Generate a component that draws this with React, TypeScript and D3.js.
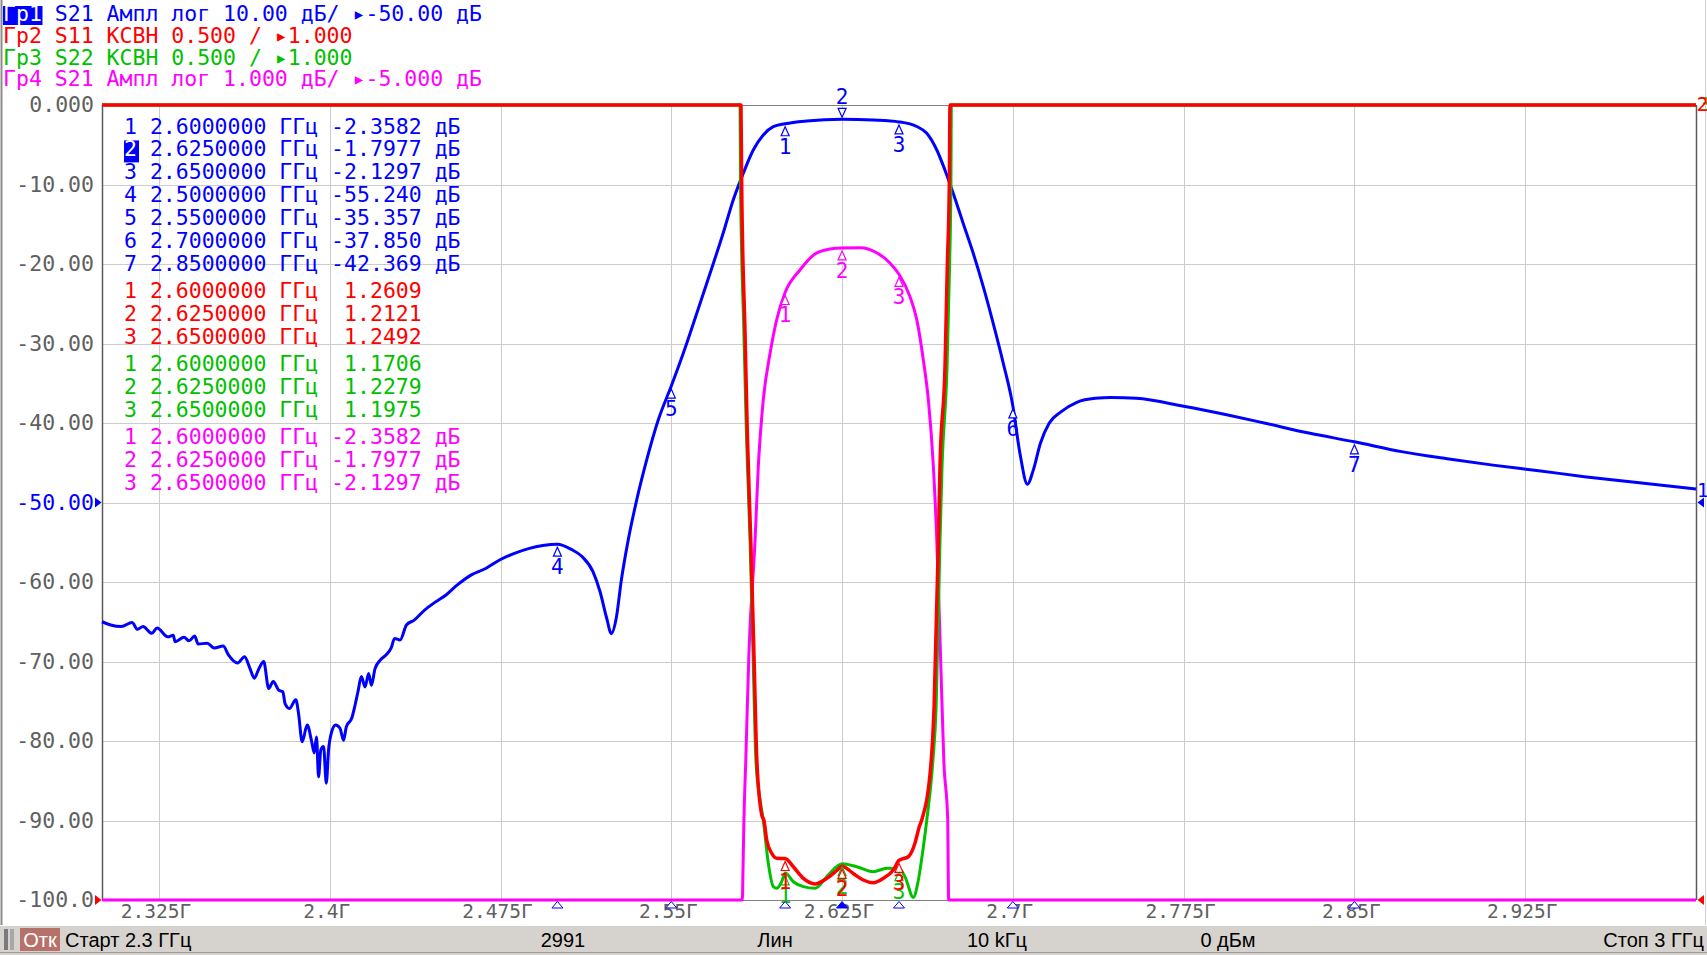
import React from 'react';
import * as d3 from 'd3';

// ---------------- data ----------------
// S21 (Гр1, blue, 10 dB/div) : [GHz, dB]
const s21Wide: [number, number][] = [
  [2.3000,-65.0],[2.3038,-65.4],[2.3085,-65.6],[2.3132,-65.1],[2.3156,-65.95],[2.3180,-65.6],[2.3219,-66.45],[2.3242,-65.8],
  [2.3289,-66.9],[2.3313,-66.7],[2.3321,-67.5],[2.3360,-66.96],[2.3383,-67.4],[2.3407,-66.8],[2.3422,-67.8],[2.3462,-67.7],
  [2.3493,-68.3],[2.3532,-68.05],[2.3556,-69.2],[2.3595,-70.2],[2.3626,-69.4],[2.3650,-70.9],[2.3669,-72.1],[2.3689,-70.9],
  [2.3710,-70.0],[2.3732,-73.4],[2.3752,-72.5],[2.3776,-73.6],[2.3794,-73.8],[2.3804,-75.3],[2.3823,-75.9],[2.3851,-74.8],
  [2.3863,-76.5],[2.3879,-80.1],[2.3901,-78.0],[2.3921,-80.1],[2.3932,-81.5],[2.3942,-79.5],[2.3951,-84.5],[2.3961,-81.1],
  [2.3973,-80.7],[2.3985,-85.3],[2.3995,-81.1],[2.4007,-79.0],[2.4026,-78.0],[2.4045,-78.4],[2.4061,-79.9],[2.4073,-78.2],
  [2.4097,-77.1],[2.4108,-75.9],[2.4124,-73.8],[2.4139,-71.9],[2.4155,-73.2],[2.4171,-71.5],[2.4183,-73.0],[2.4199,-70.9],
  [2.4223,-69.8],[2.4246,-69.2],[2.4270,-68.3],[2.4285,-67.1],[2.4309,-67.3],[2.4337,-65.4],[2.4371,-64.8],[2.4418,-63.5],
  [2.4465,-62.5],[2.4512,-61.6],[2.4559,-60.4],[2.4622,-59.1],[2.4685,-58.3],[2.4748,-57.2],[2.4811,-56.4],[2.4873,-55.8],
  [2.4936,-55.4],[2.5000,-55.24],[2.5061,-55.9],[2.5108,-56.8],[2.5156,-58.7],[2.5187,-61.2],[2.5215,-64.4],[2.5237,-66.5],
  [2.5258,-64.6],[2.5281,-59.7],[2.5311,-54.7],[2.5348,-49.7],[2.5392,-44.65],[2.5443,-39.6],[2.5500,-35.357],[2.5553,-31.2],
  [2.5612,-26.2],[2.5670,-21.2],[2.5728,-16.1],[2.5772,-11.95],[2.5816,-8.6],[2.5860,-5.66],[2.5904,-3.77],[2.5948,-2.73],
  [2.6000,-2.3582],[2.6095,-2.01],[2.6250,-1.7977],[2.6387,-1.9],[2.6500,-2.1297],[2.6578,-2.7],[2.6622,-3.56],[2.6666,-5.66],
  [2.6702,-8.2],[2.6738,-11.1],[2.6782,-14.9],[2.6826,-18.65],[2.6870,-22.85],[2.6914,-27.5],[2.6958,-32.5],[2.7000,-37.85],
  [2.7031,-43.8],[2.7064,-47.7],[2.7090,-45.9],[2.7121,-42.55],[2.7160,-40.0],[2.7211,-38.6],[2.7281,-37.4],[2.7362,-36.9],
  [2.7432,-36.8],[2.7542,-36.9],[2.7750,-37.9],[2.7944,-39.0],[2.8104,-40.0],[2.8305,-41.3],[2.8500,-42.369],[2.8707,-43.6],
  [2.8907,-44.5],[2.9108,-45.3],[2.9309,-46.0],[2.9510,-46.75],[2.9711,-47.4],[3.0000,-48.3],
];

// S21 passband detail (Гр4, magenta, 1 dB/div)
const s21Fine: [number, number][] = [
  [2.5812,-10.0],[2.5815,-9.6],[2.5819,-8.99],[2.5827,-8.26],[2.5841,-6.89],[2.5868,-5.47],[2.5882,-4.55],[2.5904,-3.71],
  [2.5934,-3.12],[2.5963,-2.70],[2.6000,-2.3582],[2.6065,-2.075],[2.6131,-1.874],[2.6197,-1.81],[2.6250,-1.7977],
  [2.6329,-1.795],[2.6402,-1.858],[2.6461,-1.99],[2.6500,-2.1297],[2.6548,-2.41],[2.6578,-2.70],[2.6607,-3.21],
  [2.6629,-3.71],[2.6651,-4.55],[2.6666,-5.47],[2.6682,-6.89],[2.6697,-8.26],[2.6714,-8.99],[2.6716,-9.6],[2.6718,-10.0],
];

// S11 VSWR (Гр2, red)
const s11Vswr: [number, number][] = [
  [2.3000,50],[2.4500,45],[2.5500,30],[2.5780,9],[2.5806,6.0],[2.5809,5.51],[2.5824,4.56],[2.5834,3.93],[2.5849,3.26],
  [2.5863,2.55],[2.5876,1.87],[2.5898,1.53],[2.5907,1.50],[2.5919,1.377],[2.5941,1.294],[2.5963,1.262],[2.6000,1.2609],
  [2.6036,1.209],[2.6080,1.136],[2.6131,1.101],[2.6183,1.136],[2.6226,1.184],[2.6250,1.2121],[2.6299,1.167],[2.6343,1.126],
  [2.6387,1.109],[2.6431,1.136],[2.6475,1.189],[2.6500,1.2492],[2.6541,1.272],[2.6570,1.357],[2.6589,1.461],[2.6600,1.503],
  [2.6641,1.868],[2.6654,2.21],[2.6673,3.26],[2.6680,3.725],[2.6702,4.354],[2.6712,4.98],[2.6721,5.51],[2.6724,6.0],
  [2.6750,9],[2.8000,35],[3.0000,50],
];

// S22 VSWR (Гр3, green)
const s22Vswr: [number, number][] = [
  [2.3000,50],[2.4500,45],[2.5500,30],[2.5778,9],[2.5802,6.0],[2.5804,5.51],[2.5819,4.56],[2.5830,3.93],[2.5846,3.26],
  [2.5859,2.55],[2.5872,1.87],[2.5890,1.63],[2.5904,1.503],[2.5926,1.231],[2.5948,1.084],[2.5963,1.074],[2.5985,1.115],
  [2.6000,1.1706],[2.6036,1.115],[2.6080,1.084],[2.6131,1.074],[2.6183,1.147],[2.6226,1.209],[2.6250,1.2279],[2.6314,1.209],
  [2.6387,1.178],[2.6446,1.199],[2.6500,1.1975],[2.6526,1.147],[2.6563,1.017],[2.6585,1.126],[2.6607,1.335],[2.6622,1.503],
  [2.6649,1.88],[2.6663,2.21],[2.6680,3.26],[2.6689,3.725],[2.6711,4.354],[2.6722,4.98],[2.6728,5.51],[2.6730,6.0],
  [2.6755,9],[2.8000,35],[3.0000,50],
];

const xTickValues = [2.325, 2.4, 2.475, 2.55, 2.625, 2.7, 2.775, 2.85, 2.925];
const xTickLabels = ['2.325Г', '2.4Г', '2.475Г', '2.55Г', '2.625Г', '2.7Г', '2.775Г', '2.85Г', '2.925Г'];
const yTickValues = [0, -10, -20, -30, -40, -50, -60, -70, -80, -90, -100];
const yTickLabels = ['0.000', '-10.00', '-20.00', '-30.00', '-40.00', '-50.00', '-60.00', '-70.00', '-80.00', '-90.00', '-100.0'];

const blueMarkerFreqs = [2.6, 2.625, 2.65, 2.5, 2.55, 2.7, 2.85];
const blueMarkerValues = ['-2.3582', '-1.7977', '-2.1297', '-55.240', '-35.357', '-37.850', '-42.369'];
const redMarkerFreqs = [2.6, 2.625, 2.65];
const redMarkerValues = ['1.2609', '1.2121', '1.2492'];
const greenMarkerFreqs = [2.6, 2.625, 2.65];
const greenMarkerValues = ['1.1706', '1.2279', '1.1975'];
const magentaMarkerFreqs = [2.6, 2.625, 2.65];
const magentaMarkerValues = ['-2.3582', '-1.7977', '-2.1297'];

const headerLabels = ['Гр1', 'Гр2', 'Гр3', 'Гр4'];
const headerTexts = [
  ' S21 Ампл лог 10.00 дБ/ ▸-50.00 дБ',
  ' S11 КСВН 0.500 / ▸1.000',
  ' S22 КСВН 0.500 / ▸1.000',
  ' S21 Ампл лог 1.000 дБ/ ▸-5.000 дБ',
];

const statusItems = ['Старт 2.3 ГГц', '2991', 'Лин', '10 kГц', '0 дБм', 'Стоп 3 ГГц'];

// ---------------- styling ----------------
const W = 1707, H = 955;
const P = { left: 102, right: 1696, top: 105, bottom: 900 };
const BLUE = '#0000ff', RED = '#ff0000', GREEN = '#00c000', MAG = '#ff00ff';
const MONO = '"DejaVu Sans Mono", monospace';
const SANS = '"Liberation Sans", Arial, sans-serif';
const GRAYTXT = '#606060';

const x = d3.scaleLinear().domain([2.3, 3.0]).range([P.left, P.right]);
const yDb = d3.scaleLinear().domain([-100, 0]).range([P.bottom, P.top]).clamp(true);
const yMag = d3.scaleLinear().domain([-10, 0]).range([P.bottom, P.top]).clamp(true);
const yVswr = d3.scaleLinear().domain([1, 6]).range([P.bottom, P.top]).clamp(true);

const mkLine = (ys: d3.ScaleLinear<number, number>) =>
  d3.line<[number, number]>().x(d => x(d[0])).y(d => ys(d[1])).curve(d3.curveMonotoneX);

const magData: [number, number][] = [
  ...s21Wide.filter(d => d[0] < 2.5812),
  ...s21Fine,
  ...s21Wide.filter(d => d[0] > 2.6718),
];

function MarkerBelow({ cx, cy, n, color }: { cx: number; cy: number; n: number; color: string }) {
  return (
    <g>
      <path d={`M${cx},${cy + 3} L${cx + 4},${cy + 12} L${cx - 4},${cy + 12} Z`} fill="#ffffff" stroke={color} strokeWidth={1.2} />
      <text x={cx} y={cy + 30} textAnchor="middle" fill={color} fontFamily={MONO} fontSize={21}>{n}</text>
    </g>
  );
}

function MarkerAbove({ cx, cy, n, color }: { cx: number; cy: number; n: number; color: string }) {
  return (
    <g>
      <path d={`M${cx},${cy - 2} L${cx + 4},${cy - 11} L${cx - 4},${cy - 11} Z`} fill="#ffffff" stroke={color} strokeWidth={1.2} />
      <text x={cx} y={cy - 15} textAnchor="middle" fill={color} fontFamily={MONO} fontSize={21}>{n}</text>
    </g>
  );
}

export default function App() {
  const tableRows: { text: string; color: string; y: number; active?: boolean }[] = [];
  let row = 0;
  const rowY = (r: number, g: number) => 133.5 + r * 22.9 + g * 4.3;
  blueMarkerFreqs.forEach((f, i) => {
    tableRows.push({ text: `${i + 1} ${f.toFixed(7)} ГГц ${blueMarkerValues[i]} дБ`, color: BLUE, y: rowY(row++, 0), active: i === 1 });
  });
  redMarkerFreqs.forEach((f, i) => {
    tableRows.push({ text: `${i + 1} ${f.toFixed(7)} ГГц  ${redMarkerValues[i]}`, color: RED, y: rowY(row++, 1) });
  });
  greenMarkerFreqs.forEach((f, i) => {
    tableRows.push({ text: `${i + 1} ${f.toFixed(7)} ГГц  ${greenMarkerValues[i]}`, color: GREEN, y: rowY(row++, 2) });
  });
  magentaMarkerFreqs.forEach((f, i) => {
    tableRows.push({ text: `${i + 1} ${f.toFixed(7)} ГГц ${magentaMarkerValues[i]} дБ`, color: MAG, y: rowY(row++, 3) });
  });

  const headerColors = [BLUE, RED, GREEN, MAG];
  const statusX = [65, 563, 775, 997, 1228, 1704];
  const statusAnchor = ['start', 'middle', 'middle', 'middle', 'middle', 'end'];

  return (
    <div style={{ position: 'absolute', left: 0, top: 0, width: W, height: H, background: '#ffffff' }}>
      <svg width={W} height={H} viewBox={`0 0 ${W} ${H}`} style={{ display: 'block' }}>
        <rect x={0} y={0} width={W} height={H} fill="#ffffff" />
        {/* window frame */}
        <line x1={1.5} y1={0} x2={1.5} y2={925} stroke="#8c8c8c" strokeWidth={2} />
        <line x1={1705.5} y1={0} x2={1705.5} y2={925} stroke="#d0d0d0" strokeWidth={1} />

        {/* header */}
        {headerLabels.map((lab, i) => {
          const by = 21 + i * 21.8;
          return (
            <g key={lab}>
              {i === 0 && <rect x={3} y={6} width={39.5} height={19} fill={BLUE} />}
              <text x={3} y={by} fontFamily={MONO} fontSize={21.5} fill={i === 0 ? '#ffffff' : headerColors[i]} style={{ whiteSpace: 'pre' }}>{lab}</text>
              <text x={3 + 3 * 12.95} y={by} fontFamily={MONO} fontSize={21.5} fill={headerColors[i]} style={{ whiteSpace: 'pre' }}>{headerTexts[i]}</text>
            </g>
          );
        })}

        {/* grid */}
        {xTickValues.map(v => (
          <line key={'gx' + v} x1={Math.round(x(v)) + 0.5} x2={Math.round(x(v)) + 0.5} y1={P.top} y2={P.bottom} stroke="#cccccc" strokeWidth={1} />
        ))}
        {yTickValues.map(v => (
          <line key={'gy' + v} x1={P.left} x2={P.right} y1={Math.round(yDb(v)) + 0.5} y2={Math.round(yDb(v)) + 0.5} stroke="#cccccc" strokeWidth={1} />
        ))}
        {/* frame */}
        <line x1={P.left} x2={P.right} y1={P.top + 0.5} y2={P.top + 0.5} stroke="#808080" strokeWidth={1} />
        <line x1={P.left} x2={P.right} y1={P.bottom + 0.5} y2={P.bottom + 0.5} stroke="#808080" strokeWidth={1} />
        <line x1={P.left + 0.5} x2={P.left + 0.5} y1={P.top} y2={P.bottom} stroke="#5a5a5a" strokeWidth={1.5} />
        <line x1={P.right + 0.5} x2={P.right + 0.5} y1={P.top} y2={P.bottom} stroke="#5a5a5a" strokeWidth={1.5} />

        {/* y labels */}
        {yTickValues.map((v, i) => (
          <text key={'yl' + v} x={94} y={yDb(v) + 7} textAnchor="end" fontFamily={MONO} fontSize={21.5}
            fill={v === -50 ? BLUE : GRAYTXT}>{yTickLabels[i]}</text>
        ))}
        {/* x labels */}
        {xTickValues.map((v, i) => (
          <text key={'xl' + v} x={x(v) - 3} y={918} textAnchor="middle" fontFamily={MONO} fontSize={19.5} fill={GRAYTXT}>{xTickLabels[i]}</text>
        ))}

        {/* reference position triangles */}
        <path d={`M95,${yDb(-50) - 5} L101.5,${yDb(-50)} L95,${yDb(-50) + 5} Z`} fill={BLUE} />
        <path d={`M95,${P.bottom - 5} L101.5,${P.bottom} L95,${P.bottom + 5} Z`} fill={RED} />
        <path d={`M1704,${yDb(-50) - 5} L1697.5,${yDb(-50)} L1704,${yDb(-50) + 5} Z`} fill={BLUE} />
        <path d={`M1704,${P.bottom - 5} L1697.5,${P.bottom} L1704,${P.bottom + 5} Z`} fill={RED} />

        {/* traces */}
        <path d={mkLine(yMag)(magData) || ''} fill="none" stroke={MAG} strokeWidth={3} strokeLinejoin="round" />
        <path d={mkLine(yDb)(s21Wide) || ''} fill="none" stroke={BLUE} strokeWidth={3} strokeLinejoin="round" />
        <path d={mkLine(yVswr)(s22Vswr) || ''} fill="none" stroke={GREEN} strokeWidth={3} strokeLinejoin="round" />
        <path d={mkLine(yVswr)(s11Vswr) || ''} fill="none" stroke={RED} strokeWidth={3.5} strokeLinejoin="round" />

        {/* markers */}
        {magentaMarkerFreqs.map((f, i) => (
          <MarkerBelow key={'mm' + i} cx={x(f)} cy={yMag(Number(magentaMarkerValues[i]))} n={i + 1} color={MAG} />
        ))}
        {greenMarkerFreqs.map((f, i) => (
          <MarkerBelow key={'gm' + i} cx={x(f)} cy={yVswr(Number(greenMarkerValues[i]))} n={i + 1} color={GREEN} />
        ))}
        {redMarkerFreqs.map((f, i) => (
          <MarkerBelow key={'rm' + i} cx={x(f)} cy={yVswr(Number(redMarkerValues[i]))} n={i + 1} color={RED} />
        ))}
        {blueMarkerFreqs.map((f, i) =>
          i === 1 ? (
            <MarkerAbove key={'bm' + i} cx={x(f)} cy={yDb(Number(blueMarkerValues[i]))} n={i + 1} color={BLUE} />
          ) : (
            <MarkerBelow key={'bm' + i} cx={x(f)} cy={yDb(Number(blueMarkerValues[i]))} n={i + 1} color={BLUE} />
          )
        )}

        {/* stimulus marker triangles on the x axis */}
        {blueMarkerFreqs.map((f, i) => (
          <path key={'st' + i} d={`M${x(f)},${P.bottom + 1.5} L${x(f) + 5.5},${P.bottom + 8} L${x(f) - 5.5},${P.bottom + 8} Z`}
            fill={i === 1 ? BLUE : '#ffffff'} stroke={BLUE} strokeWidth={1} />
        ))}

        {/* trace end labels */}
        <text x={1699} y={111} fontFamily={MONO} fontSize={20} fill={GREEN}>3</text>
        <text x={1696.5} y={111} fontFamily={MONO} fontSize={20} fill={RED}>2</text>
        <text x={1697} y={497} fontFamily={MONO} fontSize={19} fill={BLUE}>1</text>

        {/* marker table */}
        {tableRows.map((r, i) => (
          <g key={'tr' + i}>
            <text x={124} y={r.y} fontFamily={MONO} fontSize={21.5} fill={r.color} style={{ whiteSpace: 'pre' }}>{r.text}</text>
            {r.active && (
              <g>
                <rect x={124} y={r.y - 16} width={15} height={22} fill={BLUE} />
                <text x={124} y={r.y} fontFamily={MONO} fontSize={21.5} fill="#ffffff">2</text>
              </g>
            )}
          </g>
        ))}

        {/* status bar */}
        <rect x={0} y={925} width={W} height={30} fill="#d6d3ce" />
        <line x1={0} x2={W} y1={925.5} y2={925.5} stroke="#ffffff" strokeWidth={1} />
        <line x1={0} x2={W} y1={952.5} y2={952.5} stroke="#9a9a9a" strokeWidth={1} />
        <rect x={4} y={929} width={4} height={21} fill="#7a7a7a" />
        <rect x={10} y={929} width={4} height={21} fill="#a8a8a8" />
        <rect x={20} y={928} width={40} height={23} fill="#b5716a" />
        <text x={40} y={946.5} textAnchor="middle" fontFamily={SANS} fontSize={20} fill="#ffffff">Отк</text>
        {statusItems.map((s, i) => (
          <text key={'sb' + i} x={statusX[i]} y={946.5} textAnchor={statusAnchor[i] as any} fontFamily={SANS} fontSize={20} fill="#000000">{s}</text>
        ))}
      </svg>
    </div>
  );
}
